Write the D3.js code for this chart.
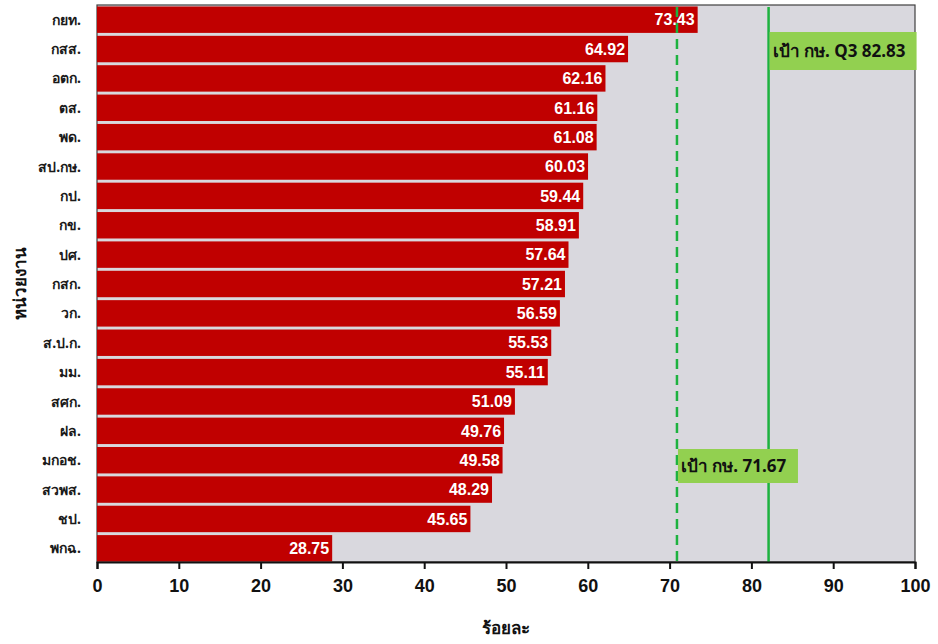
<!DOCTYPE html>
<html>
<head>
<meta charset="utf-8">
<script src="https://cdn.jsdelivr.net/npm/d3@7"></script>
<style>
  body { margin: 0; background: #fff; }
  text { font-family: "Noto Sans", "DejaVu Sans", sans-serif; }
</style>
</head>
<body>
<div id="chart"></div>
<script>
// Data
const units = ["กยท.", "กสส.", "อตก.", "ตส.", "พด.", "สป.กษ.", "กป.", "กข.", "ปศ.", "กสก.",
               "วก.", "ส.ป.ก.", "มม.", "สศก.", "ฝล.", "มกอช.", "สวพส.", "ชป.", "พกฉ."];
const values = [73.43, 64.92, 62.16, 61.16, 61.08, 60.03, 59.44, 58.91, 57.64, 57.21,
                56.59, 55.53, 55.11, 51.09, 49.76, 49.58, 48.29, 45.65, 28.75];
const xTicks = [0, 10, 20, 30, 40, 50, 60, 70, 80, 90, 100];
const targetLabels = ["เป้า กษ. 71.67", "เป้า กษ. Q3 82.83"];
const targetLines = [70.9, 82.1]; // where the lines sit in the picture

const width = 938;
const height = 644;
const margin = {top: 5, right: 23, bottom: 82, left: 97};
const numFont = "'Liberation Sans', Arial, sans-serif";

const svg = d3.select("#chart")
    .append("svg")
        .attr("width", width)
        .attr("height", height);

const x = d3.scaleLinear()
    .domain([0, 100])
    .range([margin.left, width - margin.right]);

const y = d3.scaleBand()
    .domain(units)
    .range([margin.top, height - margin.bottom + 1])
    .paddingInner(0.1)
    .paddingOuter(0.05);

// plot background
svg.append("rect")
    .attr("x", x(0))
    .attr("y", margin.top)
    .attr("width", x(100) - x(0))
    .attr("height", height - margin.bottom - margin.top)
    .attr("fill", "#d9d8de")
    .attr("stroke", "#404040")
    .attr("stroke-width", 1.2);

// bars
svg.append("g")
    .selectAll("rect")
    .data(values)
    .join("rect")
        .attr("x", x(0))
        .attr("y", (d, i) => y(units[i]))
        .attr("width", d => x(d) - x(0))
        .attr("height", y.bandwidth())
        .attr("fill", "#c00000");

// value labels
svg.append("g")
    .selectAll("text")
    .data(values)
    .join("text")
        .attr("x", d => x(d) - 3)
        .attr("y", (d, i) => y(units[i]) + y.bandwidth() / 2)
        .attr("dy", "0.36em")
        .attr("text-anchor", "end")
        .attr("fill", "#fff")
        .style("font-family", numFont)
        .style("font-size", "16px")
        .style("font-weight", "bold")
        .text(d => d.toFixed(2));

// category labels
svg.append("g")
    .selectAll("text")
    .data(units)
    .join("text")
        .attr("x", x(0) - 16)
        .attr("y", d => y(d) + y.bandwidth() / 2)
        .attr("dy", "0.36em")
        .attr("text-anchor", "end")
        .attr("fill", "#1a1a1a")
        .style("font-size", "14px")
        .style("font-weight", "bold")
        .text(d => d);

// target lines
svg.append("line")
    .attr("x1", x(targetLines[0])).attr("x2", x(targetLines[0]))
    .attr("y1", margin.top + 2).attr("y2", height - margin.bottom)
    .attr("stroke", "#1db23f")
    .attr("stroke-width", 2.5)
    .attr("stroke-dasharray", "10,6");

svg.append("line")
    .attr("x1", x(targetLines[1])).attr("x2", x(targetLines[1]))
    .attr("y1", margin.top + 2).attr("y2", height - margin.bottom)
    .attr("stroke", "#1db23f")
    .attr("stroke-width", 2.5);

// target label boxes
const boxes = [
    {text: targetLabels[0], x: x(targetLines[0]) + 1, y: 449, w: 120, h: 34},
    {text: targetLabels[1], x: x(targetLines[1]) + 1, y: 32, w: 147, h: 38}
];
const box = svg.append("g")
    .selectAll("g")
    .data(boxes)
    .join("g");
box.append("rect")
    .attr("x", d => d.x)
    .attr("y", d => d.y)
    .attr("width", d => d.w)
    .attr("height", d => d.h)
    .attr("fill", "#92d050");
box.append("text")
    .attr("x", d => d.x + 3)
    .attr("y", d => d.y + d.h / 2)
    .attr("dy", "0.36em")
    .attr("fill", "#111")
    .style("font-size", "17px")
    .style("font-weight", "bold")
    .text(d => d.text);

// x axis
const xAxis = svg.append("g")
    .attr("transform", `translate(0,${height - margin.bottom})`)
    .call(d3.axisBottom(x).tickValues(xTicks).tickSize(7).tickPadding(10));
xAxis.select(".domain").attr("stroke", "#111").attr("stroke-width", 2);
xAxis.selectAll(".tick line").attr("stroke", "#111").attr("stroke-width", 2);
xAxis.selectAll(".tick text")
    .attr("fill", "#111")
    .style("font-family", numFont)
    .style("font-size", "18px")
    .style("font-weight", "bold");

// axis titles
svg.append("text")
    .attr("x", (x(0) + x(100)) / 2)
    .attr("y", 634)
    .attr("text-anchor", "middle")
    .attr("fill", "#111")
    .style("font-size", "17px")
    .style("font-weight", "bold")
    .text("ร้อยละ");

svg.append("text")
    .attr("transform", `translate(26,${(margin.top + height - margin.bottom) / 2}) rotate(-90)`)
    .attr("text-anchor", "middle")
    .attr("fill", "#111")
    .style("font-size", "17px")
    .style("font-weight", "bold")
    .text("หน่วยงาน");
</script>
</body>
</html>
